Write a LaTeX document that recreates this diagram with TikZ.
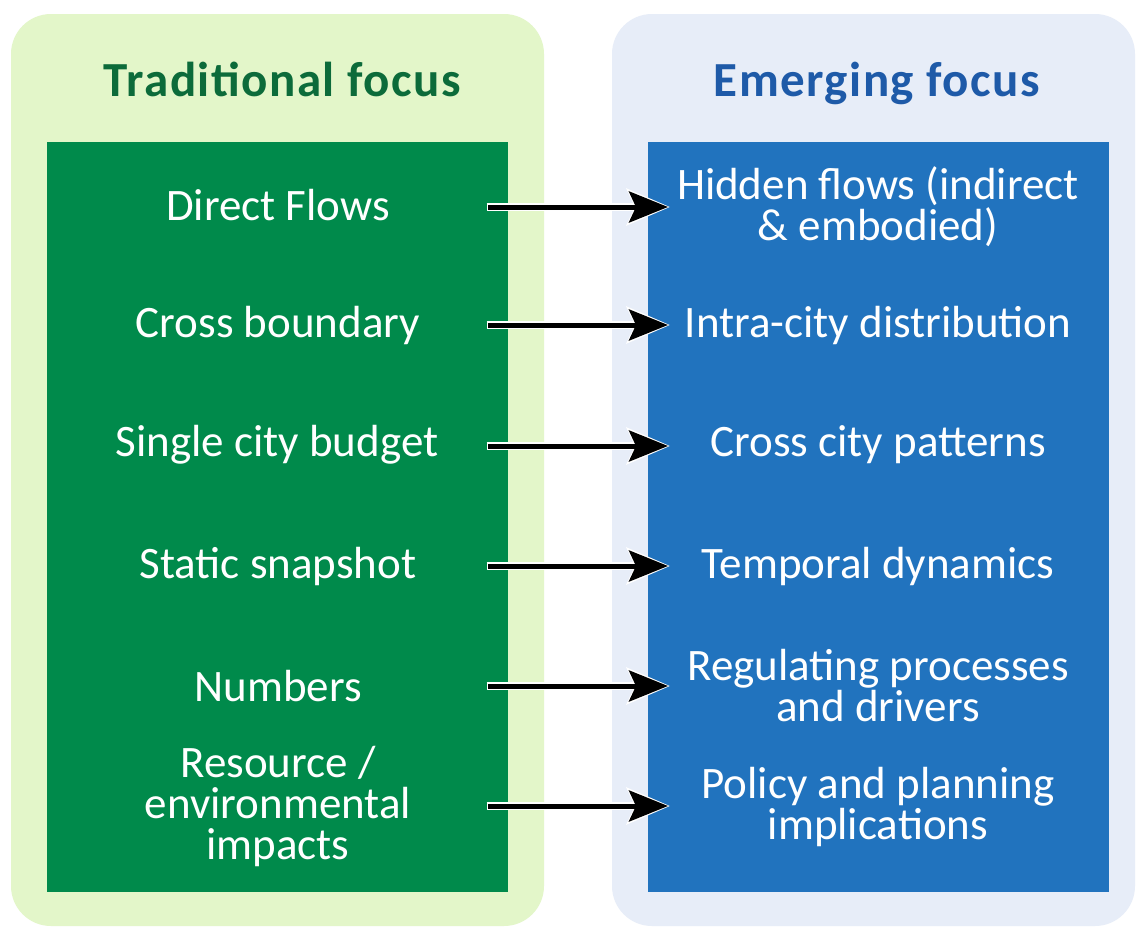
\documentclass[tikz,border=0pt]{standalone}
\usepackage{fontspec}
\setmainfont{Carlito}
\newfontfamily\headfont[LetterSpace=3]{Carlito}
\usetikzlibrary{arrows.meta}
\definecolor{panelgreen}{HTML}{E3F6C9}
\definecolor{boxgreen}{HTML}{008A4B}
\definecolor{titlegreen}{HTML}{0C6B3A}
\definecolor{panelblue}{HTML}{E7EDF8}
\definecolor{boxblue}{HTML}{2173BE}
\definecolor{titleblue}{HTML}{1E5AA8}
\begin{document}
\begin{tikzpicture}[x=1pt,y=-1pt,
  panel/.style={rounded corners=40pt, inner sep=0pt, draw=none},
  colbox/.style={inner sep=0pt, minimum width=461pt, minimum height=750pt, draw=none},
  body/.style={text=white, font=\fontsize{45}{41}\selectfont, align=center, inner sep=0pt},
  headtitle/.style={font=\headfont\fontsize{49}{56}\selectfont\bfseries, inner sep=0pt, anchor=base},
  arrowwhite/.style={white, line width=8.5pt, shorten <=-1.5pt, shorten >=-2pt,
    -{Stealth[length=43pt,width=36pt,inset=8pt]}},
  arrowblack/.style={black, line width=5pt,
    -{Stealth[length=39pt,width=31pt,inset=7pt]}}]
\useasboundingbox (0,0) rectangle (1136,927);
\fill[white] (0,0) rectangle (1136,927);
% panels
\node[panel, fill=panelgreen, minimum width=533pt, minimum height=912pt] (lpanel) at (277.5,470) {};
\node[panel, fill=panelblue, minimum width=523pt, minimum height=912pt] (rpanel) at (873.5,470) {};
% titles
\node[headtitle, text=titlegreen] (ltitle) at (282,96) {Traditional focus};
\node[headtitle, text=titleblue] (rtitle) at (877,96) {Emerging focus};
% boxes
\node[colbox, fill=boxgreen] (lbox) at (277.5,517) {};
\node[colbox, fill=boxblue] (rbox) at (878.5,517) {};
% left texts
\node[body] (l1) at (278,205) {Direct Flows};
\node[body] (l2) at (278,325) {Cross boundary};
\node[body] (l3) at (277,445) {Single city budget};
\node[body] (l4) at (278,566) {Static snapshot};
\node[body] (l5) at (278,686) {Numbers};
\node[body] (l6) at (278,806) {Resource /\\environmental\\impacts};
% right texts
\node[body] (r1) at (878,207) {Hidden flows (indirect\\\& embodied)};
\node[body] (r2) at (878,325) {Intra-city distribution};
\node[body] (r3) at (878,445) {Cross city patterns};
\node[body] (r4) at (878,566) {Temporal dynamics};
\node[body] (r5) at (878,686) {Regulating processes\\and drivers};
\node[body] (r6) at (878,807) {Policy and planning\\implications};
% arrow end points
\foreach \i/\y in {1/207,2/325,3/446,4/566,5/686,6/806}{
  \coordinate (a\i) at (488,\y);
  \coordinate (b\i) at (668,\y);
}
\foreach \i in {1,...,6}{
  \draw[arrowwhite] (a\i) -- (b\i);
  \draw[arrowblack] (a\i) -- (b\i);
}
\end{tikzpicture}
\end{document}
